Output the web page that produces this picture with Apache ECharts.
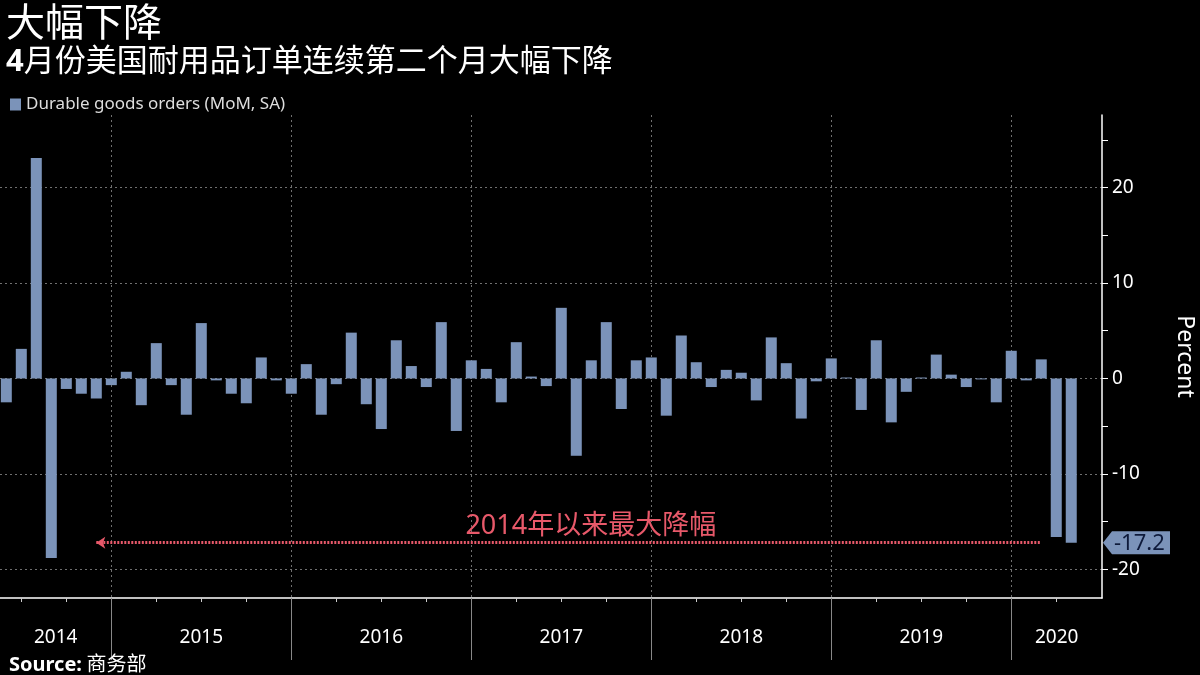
<!DOCTYPE html>
<html><head><meta charset="utf-8">
<script src="https://cdn.jsdelivr.net/npm/echarts@6/dist/echarts.min.js"></script>
<style>html,body{margin:0;padding:0;background:#000}#c{width:1200px;height:675px}</style>
</head><body><div id="c"></div>
<script>
// ---- data ----
const months = [
  '2014-05','2014-06','2014-07','2014-08','2014-09','2014-10','2014-11','2014-12',
  '2015-01','2015-02','2015-03','2015-04','2015-05','2015-06','2015-07','2015-08','2015-09','2015-10','2015-11','2015-12',
  '2016-01','2016-02','2016-03','2016-04','2016-05','2016-06','2016-07','2016-08','2016-09','2016-10','2016-11','2016-12',
  '2017-01','2017-02','2017-03','2017-04','2017-05','2017-06','2017-07','2017-08','2017-09','2017-10','2017-11','2017-12',
  '2018-01','2018-02','2018-03','2018-04','2018-05','2018-06','2018-07','2018-08','2018-09','2018-10','2018-11','2018-12',
  '2019-01','2019-02','2019-03','2019-04','2019-05','2019-06','2019-07','2019-08','2019-09','2019-10','2019-11','2019-12',
  '2020-01','2020-02','2020-03','2020-04'
];
const durableOrders = [
  -2.5, 3.1, 23.1, -18.8, -1.1, -1.6, -2.1, -0.7,
  0.7, -2.8, 3.7, -0.7, -3.8, 5.8, -0.2, -1.6, -2.6, 2.2, -0.2, -1.6,
  1.5, -3.8, -0.6, 4.8, -2.7, -5.3, 4.0, 1.3, -0.9, 5.9, -5.5, 1.9,
  1.0, -2.5, 3.8, 0.2, -0.8, 7.4, -8.1, 1.9, 5.9, -3.2, 1.9, 2.2,
  -3.9, 4.5, 1.7, -0.9, 0.9, 0.6, -2.3, 4.3, 1.6, -4.2, -0.3, 2.1,
  0.1, -3.3, 4.0, -4.6, -1.4, 0.1, 2.5, 0.4, -0.9, -0.1, -2.5, 2.9,
  -0.2, 2.0, -16.6, -17.2
];
const yMajorTicks = [-20, -10, 0, 10, 20];
const yMinorTicks = [-20, -15, -10, -5, 0, 5, 10, 15, 20, 25];
const seriesName = 'Durable goods orders (MoM, SA)';
const annotationText = '2014年以来最大降幅';
const annotationFrom = '2014-11';
const annotationTo = '2020-02';
const titleText = '大幅下降';
const subtitleLead = '4';
const subtitleRest = '月份美国耐用品订单连续第二个月大幅下降';
const sourceText = '商务部';

// ---- derived (from data) ----
const X_MIN = -0.42, X_MAX = 73.05, Y_MIN = -23, Y_MAX = 27.6;
const barData = durableOrders.map((v, i) => [i, v]);
const yearEnds = [];
const quarterEnds = [];
months.forEach((m, i) => {
  const mo = +m.slice(5);
  if (mo === 12) yearEnds.push(i);
  if (mo % 3 === 0) quarterEnds.push(i);
});
const years = [...new Set(months.map(m => m.slice(0, 4)))];
const bounds = [X_MIN, ...yearEnds, X_MAX];
const yearLabelPos = {};
const yearLabelVals = [];
years.forEach((y, k) => {
  const p = (bounds[k] + bounds[k + 1]) / 2;
  yearLabelVals.push(p);
  yearLabelPos[p.toFixed(4)] = y;
});
const lastVal = durableOrders[durableOrders.length - 1];

const FONT = "'Noto Sans','Noto Sans CJK SC',sans-serif";
const BAR = '#7b93b9';
const RED = '#e8596a';
const GRID = { left: 0, right: 98, top: 115, bottom: 77, outerBoundsMode: 'none', containLabel: false };

const chart = echarts.init(document.getElementById('c'));
chart.setOption({
  backgroundColor: '#000',
  animation: false,
  textStyle: { fontFamily: FONT },
  title: [
    { text: titleText, left: 1, top: 0, textStyle: { color: '#fff', fontSize: 39, fontWeight: 'normal', fontFamily: FONT } },
    { text: '{b|' + subtitleLead + '}{n|' + subtitleRest + '}', left: 1, top: 42,
      textStyle: { rich: {
        b: { color: '#fff', fontSize: 31, fontWeight: 'bold', fontFamily: FONT },
        n: { color: '#fff', fontSize: 31, fontWeight: 'normal', fontFamily: FONT } } } },
    { text: '{b|Source:} {n|' + sourceText + '}', left: 4, top: 650,
      textStyle: { rich: {
        b: { color: '#fff', fontSize: 20, fontWeight: 'bold', fontFamily: FONT },
        n: { color: '#fff', fontSize: 20, fontWeight: 'normal', fontFamily: FONT } } } }
  ],
  legend: {
    left: 5, top: 91, icon: 'rect', itemWidth: 11, itemHeight: 12, itemGap: 10,
    textStyle: { color: '#ddd', fontSize: 17, fontFamily: FONT },
    data: [seriesName]
  },
  grid: [Object.assign({}, GRID), Object.assign({}, GRID)],
  xAxis: [
    { type: 'value', gridIndex: 0, min: X_MIN, max: X_MAX,
      axisLine: { show: true, onZero: false, lineStyle: { color: '#fff', width: 1.5 } },
      axisTick: { show: true, customValues: quarterEnds, length: 4, lineStyle: { color: '#ccc' } },
      axisLabel: { show: true, customValues: yearLabelVals, margin: 30, color: '#fff', fontSize: 19, fontFamily: FONT,
        formatter: v => yearLabelPos[(+v).toFixed(4)] || '' },
      splitLine: { show: false } },
    { type: 'value', gridIndex: 1, min: X_MIN, max: X_MAX,
      axisLine: { show: false, onZero: false },
      axisTick: { show: true, customValues: yearEnds, length: 62, lineStyle: { color: '#888', width: 1 } },
      axisLabel: { show: false },
      splitLine: { show: true, lineStyle: { color: '#707070', type: [2, 3], width: 1 } } }
  ],
  yAxis: [
    { type: 'value', gridIndex: 0, position: 'right', min: Y_MIN, max: Y_MAX,
      axisLine: { show: true, onZero: false, lineStyle: { color: '#fff', width: 1.5 } },
      axisTick: { show: true, customValues: yMinorTicks, length: 6, lineStyle: { color: '#fff' } },
      axisLabel: { show: true, customValues: yMajorTicks, margin: 10, color: '#fff', fontSize: 19, fontFamily: FONT },
      splitLine: { show: false },
      name: 'Percent', nameLocation: 'middle', nameRotate: -90, nameGap: 71,
      nameTextStyle: { color: '#fff', fontSize: 23, fontFamily: FONT } },
    { type: 'value', gridIndex: 1, position: 'right', min: Y_MIN, max: Y_MAX,
      axisLine: { show: false, onZero: false }, axisTick: { show: false, customValues: yMajorTicks },
      axisLabel: { show: false },
      splitLine: { show: true, lineStyle: { color: '#707070', type: [2, 3], width: 1 } } }
  ],
  series: [{
    name: seriesName, type: 'bar', xAxisIndex: 0, yAxisIndex: 0,
    data: barData, barWidth: 11, itemStyle: { color: BAR }, z: 3,
    markLine: {
      silent: true, symbol: ['arrow', 'none'], symbolSize: [9, 9],
      lineStyle: { color: RED, type: [2, 1.5], width: 3 },
      label: { show: true, position: 'middle', formatter: annotationText, color: RED, fontSize: 27, fontFamily: FONT, distance: 3, offset: [22, 0] },
      data: [[
        { coord: [months.indexOf(annotationFrom), lastVal] },
        { coord: [months.indexOf(annotationTo), lastVal] }
      ]]
    }
  }]
});

// price tag for the last value on the right axis
const py = chart.convertToPixel({ yAxisIndex: 0 }, lastVal);
const px = chart.convertToPixel({ xAxisIndex: 0 }, X_MAX);
chart.setOption({
  graphic: [{
    type: 'group', x: px + 1, y: py,
    children: [
      { type: 'polygon', shape: { points: [[0, 0], [9, -11.5], [67, -11.5], [67, 11.5], [9, 11.5]] }, style: { fill: BAR } },
      { type: 'text', x: 11, y: 1, style: { text: String(lastVal), fill: '#0e1a3a', font: '22px ' + FONT, verticalAlign: 'middle', align: 'left' } }
    ]
  }]
});
</script>
</body></html>
